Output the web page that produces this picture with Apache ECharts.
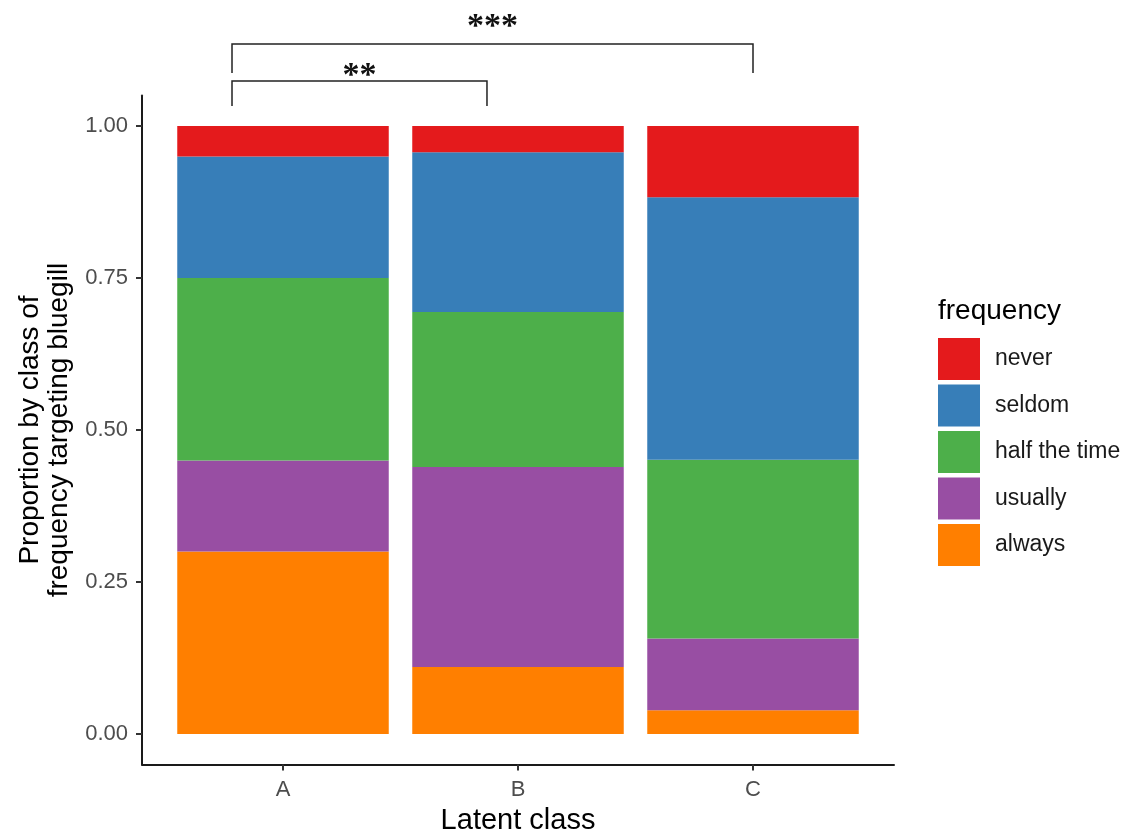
<!DOCTYPE html>
<html>
<head>
<meta charset="utf-8">
<script src="https://cdn.jsdelivr.net/npm/echarts@6/dist/echarts.min.js"></script>
<style>
  html, body { margin: 0; padding: 0; background: #fff; }
  #chart { width: 1128px; height: 835px; }
</style>
</head>
<body>
<div id="chart"></div>
<script>
// Latent classes on the x axis
const classes = ['A', 'B', 'C'];

// Proportion of each class answering each frequency (stacked bottom to top)
const always     = [0.300, 0.110, 0.039];
const usually    = [0.150, 0.329, 0.118];
const halfTime   = [0.300, 0.255, 0.294];
const seldom     = [0.200, 0.263, 0.432];
const never      = [0.050, 0.043, 0.117];

// Legend order (top to bottom) and series order (bottom of stack first)
const legendOrder = ['never', 'seldom', 'half the time', 'usually', 'always'];
const stackOrder  = ['always', 'usually', 'half the time', 'seldom', 'never'];
const stackValues = [always, usually, halfTime, seldom, never];
const stackColors = ['#FF7F00', '#984EA3', '#4DAF4A', '#377EB8', '#E41A1C'];

// y tick values
const yTicks = [0, 0.25, 0.5, 0.75, 1.0];

// Significance brackets: [left x, right x, leg bottom y, top y, label y, label]
const brackets = [
  [0.783, 1.868, 1.033, 1.074, 1.092, '**'],
  [0.783, 3.000, 1.087, 1.135, 1.173, '***']
];

const BAR_WIDTH = 0.9;   // in x-axis units, as in the classic stacked-bar default
const FONT = 'Liberation Sans, Arial, sans-serif';

// Build [x, start, end] rows for each stacked segment
const running = classes.map(() => 0);
const segmentSeries = stackOrder.map((name, si) => {
  const rows = classes.map((c, ci) => {
    const start = running[ci];
    const end = start + stackValues[si][ci];
    running[ci] = end;
    return [ci + 1, start, end];
  });
  return {
    name: name,
    type: 'custom',
    color: stackColors[si],
    itemStyle: { color: stackColors[si] },
    encode: { x: 0, y: [1, 2] },
    data: rows,
    renderItem: function (params, api) {
      const x = api.value(0);
      const p0 = api.coord([x, api.value(1)]);
      const p1 = api.coord([x, api.value(2)]);
      const w = api.size([BAR_WIDTH, 0])[0];
      return {
        type: 'rect',
        shape: { x: p0[0] - w / 2, y: p1[1], width: w, height: p0[1] - p1[1] },
        style: { fill: api.visual('color') }
      };
    }
  };
});

const bracketSeries = {
  name: 'brackets',
  type: 'custom',
  clip: false,
  silent: true,
  encode: { x: [0, 1], y: [2, 3] },
  data: brackets.map(b => b.slice(0, 5)),
  renderItem: function (params, api) {
    const b = brackets[params.dataIndex];
    const a = api.coord([b[0], b[2]]);
    const t = api.coord([b[0], b[3]]);
    const e = api.coord([b[1], b[2]]);
    const l = api.coord([(b[0] + b[1]) / 2, b[4]]);
    return {
      type: 'group',
      children: [
        {
          type: 'polyline',
          shape: { points: [[a[0], a[1]], [t[0], t[1]], [e[0], t[1]], [e[0], e[1]]] },
          style: { stroke: '#222', lineWidth: 1.5, fill: null }
        },
        {
          type: 'text',
          style: {
            text: b[5],
            x: l[0],
            y: l[1] + 6,
            align: 'center',
            verticalAlign: 'middle',
            font: 'bold 34px "Liberation Serif", serif',
            fill: '#111'
          }
        }
      ]
    };
  }
};

const chart = echarts.init(document.getElementById('chart'), null, { renderer: 'canvas' });

chart.setOption({
  animation: false,
  backgroundColor: '#fff',
  title: {
    text: 'frequency',
    left: 938,
    top: 297,
    padding: 0,
    textStyle: { fontFamily: FONT, fontSize: 28, fontWeight: 'normal', color: '#000' }
  },
  legend: {
    data: legendOrder,
    orient: 'vertical',
    left: 938,
    top: 338,
    padding: 0,
    itemWidth: 42,
    itemHeight: 42,
    itemGap: 4.5,
    icon: 'rect',
    selectedMode: false,
    textStyle: { fontFamily: FONT, fontSize: 23, color: '#1a1a1a', padding: [0, 0, 0, 10] }
  },
  grid: {
    left: 142,
    right: 234,
    top: 95.6,
    bottom: 70.6,
    containLabel: false,
    outerBoundsMode: 'none'
  },
  xAxis: {
    type: 'value',
    min: 0.4,
    max: 3.6,
    name: 'Latent class',
    nameLocation: 'middle',
    nameGap: 42,
    nameTextStyle: { fontFamily: FONT, fontSize: 29, color: '#000' },
    splitLine: { show: false },
    axisLine: { show: true, onZero: false, lineStyle: { color: '#1a1a1a', width: 2 } },
    axisTick: { show: true, length: 6, customValues: [1, 2, 3], lineStyle: { color: '#333', width: 2 } },
    axisLabel: {
      customValues: [1, 2, 3],
      margin: 15,
      fontFamily: FONT,
      fontSize: 22,
      color: '#4D4D4D',
      formatter: v => classes[Math.round(v) - 1]
    }
  },
  yAxis: {
    type: 'value',
    min: -0.05,
    max: 1.05,
    name: 'Proportion by class of\nfrequency targeting bluegill',
    nameLocation: 'middle',
    nameRotate: 90,
    nameGap: 68,
    nameTextStyle: { fontFamily: FONT, fontSize: 28, color: '#000', lineHeight: 29 },
    splitLine: { show: false },
    axisLine: { show: true, onZero: false, lineStyle: { color: '#1a1a1a', width: 2 } },
    axisTick: { show: true, length: 6, customValues: yTicks, lineStyle: { color: '#333', width: 2 } },
    axisLabel: {
      customValues: yTicks,
      margin: 14,
      fontFamily: FONT,
      fontSize: 22,
      color: '#4D4D4D',
      formatter: v => v.toFixed(2)
    }
  },
  series: segmentSeries.concat([bracketSeries])
});
</script>
</body>
</html>
